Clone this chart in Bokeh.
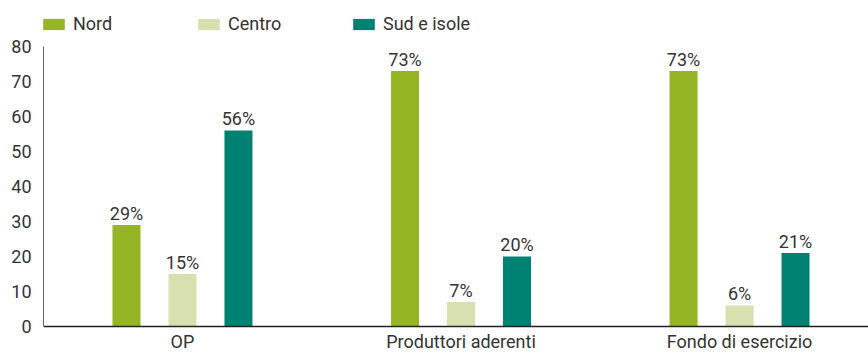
from bokeh.plotting import figure
from bokeh.models import Range1d, FixedTicker, Legend, LegendItem, ColumnDataSource, LabelSet
from bokeh.core.properties import value
from bokeh.embed import file_html
from bokeh.resources import INLINE

categories = ["OP", "Produttori aderenti", "Fondo di esercizio"]
series = ["Nord", "Centro", "Sud e isole"]
nord = [29, 73, 73]
centro = [15, 7, 6]
sud = [56, 20, 21]
colors = ["#96b524", "#d8e0b0", "#008273"]
y_ticks = [0, 10, 20, 30, 40, 50, 60, 70, 80]

FONT = "Roboto"
TXT = "#333333"
FS = "18px"

p = figure(width=868, height=352, output_backend="svg", toolbar_location=None,
           x_range=Range1d(-0.499, 2.463), y_range=Range1d(-7.43, 93.14),
           min_border_left=43, min_border_right=0, min_border_top=0, min_border_bottom=0)
p.outline_line_color = None
p.grid.grid_line_color = None
p.background_fill_color = "white"

offsets = [-0.201, 0.0, 0.201]
renderers = []
for vals, off, col, name in zip([nord, centro, sud], offsets, colors, series):
    xs = [i + off for i in range(len(categories))]
    src = ColumnDataSource(dict(x=xs, top=vals, lab=[f"{v}%" for v in vals]))
    r = p.vbar(x="x", top="top", width=0.1005, source=src, fill_color=col, line_color=None)
    renderers.append((name, r))
    labels = LabelSet(x="x", y="top", text="lab", source=src, text_align="center",
                      text_baseline="bottom", y_offset=1, text_font=value(FONT),
                      text_font_size=FS, text_color=TXT)
    p.add_layout(labels)

legend = Legend(items=[LegendItem(label=n, renderers=[r]) for n, r in renderers],
                orientation="horizontal", location=(-3, 318), padding=0, margin=0,
                spacing=0, glyph_width=27, glyph_height=14, label_height=14,
                label_width=122, label_standoff=6, border_line_color=None,
                background_fill_alpha=0, label_text_font=FONT,
                label_text_font_size=FS, label_text_color=TXT)
p.add_layout(legend, "center")

p.xaxis.fixed_location = 0
p.xaxis.ticker = FixedTicker(ticks=[0, 1, 2])
p.xaxis.major_label_overrides = {i: c for i, c in enumerate(categories)}
p.xaxis.major_tick_line_color = None
p.xaxis.minor_tick_line_color = None
p.xaxis.major_tick_in = 0
p.xaxis.major_tick_out = 0
p.xaxis.axis_line_color = "#222222"
p.xaxis.axis_line_width = 1.5
p.xaxis.major_label_standoff = 5
p.xaxis.major_label_text_font = FONT
p.xaxis.major_label_text_font_size = FS
p.xaxis.major_label_text_color = TXT

p.yaxis.ticker = FixedTicker(ticks=y_ticks)
p.yaxis.bounds = (0, 80)
p.yaxis.major_tick_line_color = None
p.yaxis.minor_tick_line_color = None
p.yaxis.major_tick_in = 0
p.yaxis.major_tick_out = 0
p.yaxis.axis_line_color = "#666666"
p.yaxis.major_label_standoff = 12
p.yaxis.major_label_text_font = FONT
p.yaxis.major_label_text_font_size = FS
p.yaxis.major_label_text_color = TXT

open("out.html", "w").write(file_html(p, INLINE))
